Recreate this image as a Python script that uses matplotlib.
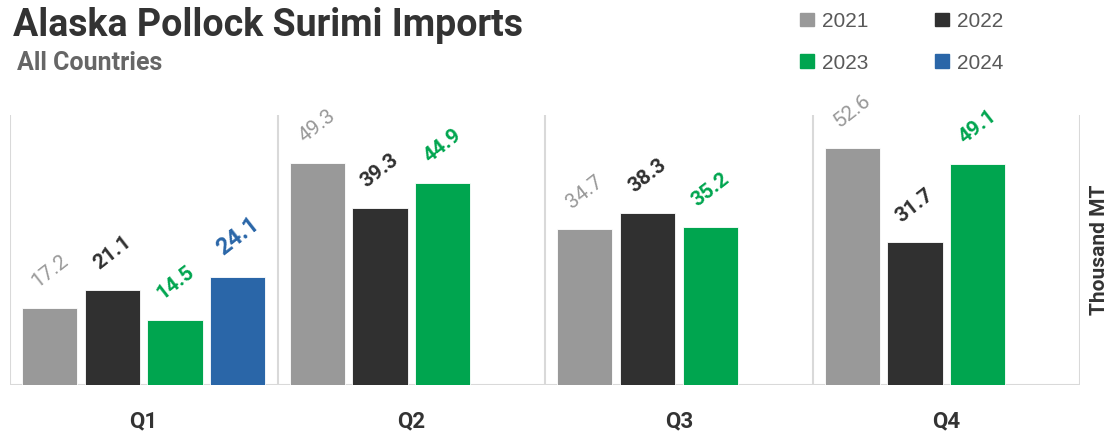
import numpy as np
import matplotlib.pyplot as plt
from matplotlib.patches import Patch

quarters = ['Q1', 'Q2', 'Q3', 'Q4']
years = ['2021', '2022', '2023', '2024']
v2021 = [17.2, 49.3, 34.7, 52.6]
v2022 = [21.1, 39.3, 38.3, 31.7]
v2023 = [14.5, 44.9, 35.2, 49.1]
v2024 = [24.1, None, None, None]

series = [v2021, v2022, v2023, v2024]
colors = ['#999999', '#303030', '#00A54F', '#2A66A8']
label_weights = ['normal', 'bold', 'bold', 'bold']
label_sizes = [15, 15, 15, 17]

fig = plt.figure(figsize=(11.1, 4.34), dpi=100)
ax = fig.add_axes([0.009, 0.113, 0.964, 0.622])

slot = 0.234
width = 0.206
for j, vals in enumerate(series):
    for i, v in enumerate(vals):
        if v is None:
            continue
        x = i + 0.5 + (j - 1.5) * slot
        ax.bar(x, v, width=width, color=colors[j], edgecolor='white', linewidth=0.6, zorder=2)
        ax.annotate(f'{v:.1f}', (x, v), xytext=(0, 12), textcoords='offset points',
                    ha='center', va='bottom', rotation=38,
                    color=colors[j], fontsize=label_sizes[j], fontweight=label_weights[j],
                    family='Roboto')

ax.set_xlim(0, 4)
ax.set_ylim(0, 60)
for s in range(5):
    ax.axvline(s, color='#d9d9d9', lw=1.5, zorder=1)
ax.axhline(0, color='#d9d9d9', lw=1.5, zorder=1)
for sp in ax.spines.values():
    sp.set_visible(False)
ax.set_yticks([])
ax.set_xticks([i + 0.5 for i in range(4)])
ax.set_xticklabels(quarters, fontsize=16, fontweight='bold', color='#333333', family='Roboto')
ax.tick_params(axis='x', length=0, pad=18)

ax.yaxis.set_label_position('right')
ax.set_ylabel('Thousand MT', fontsize=15, fontweight='bold', color='#333333',
              family='Roboto', labelpad=7)

fig.text(0.012, 0.918, 'Alaska Pollock Surimi Imports', fontsize=27, fontweight='bold',
         color='#333333', family='Roboto', va='baseline')
fig.text(0.015, 0.838, 'All Countries', fontsize=18, fontweight='bold',
         color='#666666', family='Roboto', va='baseline')

# legend fills column-wise, so reorder to read 2021 2022 / 2023 2024
handles = [Patch(color=c, label=y) for c, y in zip(colors, years)]
handles = [handles[0], handles[2], handles[1], handles[3]]
fig.legend(handles=handles, loc='upper left', bbox_to_anchor=(0.704, 1.016), ncol=2,
           frameon=False, prop={'family': 'Liberation Sans', 'size': 15},
           labelcolor='#595959', handlelength=0.65, handleheight=0.65,
           columnspacing=3.2, handletextpad=0.4, labelspacing=1.1)

fig.savefig('out.png', dpi=100)
